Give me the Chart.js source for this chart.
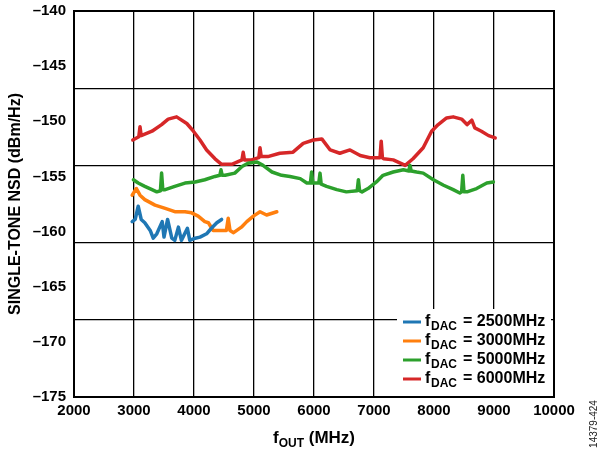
<!DOCTYPE html>
<html>
<head>
<meta charset="utf-8">
<script src="https://cdn.jsdelivr.net/npm/chart.js@4.4.1/dist/chart.umd.min.js"></script>
<style>
  html, body { margin: 0; padding: 0; background: #fff; }
  canvas { display: block; }
</style>
</head>
<body>
<canvas id="nsd" width="602" height="451"></canvas>
<script>
// values (MHz, dBm/Hz)
const xTicks = [2000, 3000, 4000, 5000, 6000, 7000, 8000, 9000, 10000];
const yTicks = [-175, -170, -165, -160, -155, -150, -145, -140];
const seriesNames = ['2500MHz', '3000MHz', '5000MHz', '6000MHz'];

const freq2500 = [2970, 3020, 3070, 3120, 3180, 3270, 3320, 3380, 3470, 3500, 3560, 3630, 3680, 3740, 3790, 3890, 3930, 4020, 4100, 4210, 4290, 4380, 4460];
const nsd2500 = [-159.1, -158.9, -157.7, -158.9, -159.2, -159.9, -160.6, -160.2, -159.1, -160.5, -158.9, -160.6, -160.8, -159.6, -160.8, -159.7, -160.8, -160.6, -160.5, -160.2, -159.7, -159.2, -158.9];

const freq3000 = [2970, 3040, 3100, 3180, 3350, 3520, 3680, 3850, 3960, 4070, 4180, 4240, 4320, 4430, 4540, 4570, 4600, 4660, 4790, 4880, 4990, 5100, 5210, 5380];
const nsd3000 = [-156.7, -156.1, -156.7, -157.1, -157.6, -157.9, -158.2, -158.2, -158.3, -158.6, -159.1, -159.2, -159.9, -159.9, -159.9, -158.8, -159.9, -160.1, -159.6, -159.1, -158.6, -158.2, -158.5, -158.2];

const freq5000 = [2990, 3070, 3180, 3300, 3380, 3440, 3460, 3480, 3520, 3680, 3850, 4020, 4180, 4350, 4430, 4450, 4470, 4520, 4680, 4800, 4900, 5050, 5150, 5300, 5460, 5600, 5770, 5880, 5940, 5960, 5980, 6020, 6080, 6100, 6120, 6210, 6380, 6540, 6720, 6740, 6760, 6800, 6900, 7040, 7150, 7320, 7490, 7580, 7600, 7620, 7710, 7820, 7990, 8160, 8320, 8430, 8460, 8480, 8500, 8550, 8710, 8880, 8990];
const nsd5000 = [-155.3, -155.6, -155.9, -156.2, -156.4, -156.3, -154.7, -156.2, -156.2, -155.9, -155.6, -155.5, -155.3, -155.0, -154.9, -154.4, -154.9, -154.9, -154.7, -154.1, -153.8, -153.7, -154.0, -154.6, -154.9, -155.0, -155.2, -155.6, -155.6, -154.6, -155.6, -155.6, -155.6, -154.7, -155.7, -155.9, -156.2, -156.4, -156.3, -155.3, -156.3, -156.4, -156.1, -155.5, -154.9, -154.6, -154.4, -154.5, -154.0, -154.5, -154.6, -154.7, -155.3, -155.8, -156.2, -156.5, -156.4, -154.9, -156.4, -156.4, -156.1, -155.6, -155.5];

const freq6000 = [2980, 3080, 3100, 3120, 3300, 3460, 3570, 3710, 3880, 3990, 4100, 4210, 4350, 4460, 4630, 4800, 4820, 4840, 4960, 5080, 5100, 5120, 5230, 5430, 5650, 5820, 5990, 6130, 6270, 6430, 6600, 6770, 6930, 7100, 7120, 7140, 7160, 7320, 7520, 7650, 7820, 7960, 8070, 8210, 8320, 8460, 8550, 8630, 8680, 8790, 8910, 9020];
const nsd6000 = [-151.7, -151.4, -150.5, -151.3, -150.9, -150.3, -149.8, -149.6, -150.2, -150.9, -151.7, -152.6, -153.4, -153.9, -153.9, -153.5, -152.8, -153.5, -153.5, -153.3, -152.4, -153.2, -153.2, -152.9, -152.8, -152.0, -151.7, -151.6, -152.6, -152.9, -152.6, -153.1, -153.3, -153.3, -151.8, -153.3, -153.4, -153.5, -154.0, -153.4, -152.4, -150.9, -150.3, -149.7, -149.6, -149.8, -150.3, -149.9, -150.6, -150.9, -151.3, -151.5];

const colors = ['#1f77b4', '#ff7f0e', '#2ca02c', '#d62728'];
const FONT = '"Liberation Sans", Arial, sans-serif';

function pts(xs, ys) {
    return xs.map((x, i) => ({ x: x, y: ys[i] }));
}
const allFreq = [freq2500, freq3000, freq5000, freq6000];
const allNsd = [nsd2500, nsd3000, nsd5000, nsd6000];

// frame, legend with subscripts, x title, figure number
const extras = {
    id: 'extras',
    afterDatasetsDraw(chart) {
        const ctx = chart.ctx;
        const a = chart.chartArea;
        ctx.save();

        // legend box
        const lx = 397, ly = 309;
        ctx.fillStyle = '#fff';
        ctx.fillRect(lx, ly, a.right - 3 - lx, a.bottom - ly);
        seriesNames.forEach((name, i) => {
            const y = 322 + i * 19;
            ctx.strokeStyle = colors[i];
            ctx.lineWidth = 3;
            ctx.beginPath();
            ctx.moveTo(403, y);
            ctx.lineTo(421, y);
            ctx.stroke();
            ctx.fillStyle = '#000';
            ctx.textBaseline = 'middle';
            ctx.textAlign = 'left';
            ctx.font = 'bold 16px ' + FONT;
            ctx.fillText('f', 425, y);
            ctx.font = 'bold 12px ' + FONT;
            ctx.fillText('DAC', 431, y + 5);
            ctx.font = 'bold 16px ' + FONT;
            ctx.fillText('= ' + name, 463, y);
        });

        // plot frame
        ctx.strokeStyle = '#000';
        ctx.lineWidth = 2;
        ctx.strokeRect(a.left, a.top, a.right - a.left, a.bottom - a.top);

        // x axis title with subscript
        ctx.fillStyle = '#000';
        ctx.textBaseline = 'alphabetic';
        ctx.textAlign = 'left';
        const cx = (a.left + a.right) / 2;
        ctx.font = 'bold 17px ' + FONT;
        const wF = ctx.measureText('f').width;
        const wRest = ctx.measureText(' (MHz)').width;
        ctx.font = 'bold 12px ' + FONT;
        const wSub = ctx.measureText('OUT').width;
        let x0 = cx - (wF + wSub + wRest) / 2;
        ctx.font = 'bold 17px ' + FONT;
        ctx.fillText('f', x0, 443);
        ctx.font = 'bold 12px ' + FONT;
        ctx.fillText('OUT', x0 + wF, 447);
        ctx.font = 'bold 17px ' + FONT;
        ctx.fillText(' (MHz)', x0 + wF + wSub, 443);

        // figure number
        ctx.translate(594, 424);
        ctx.rotate(-Math.PI / 2);
        ctx.textAlign = 'center';
        ctx.textBaseline = 'middle';
        ctx.font = '10px ' + FONT;
        ctx.fillStyle = '#222';
        ctx.fillText('14379-424', 0, 0);
        ctx.restore();
    }
};

new Chart(document.getElementById('nsd'), {
    type: 'line',
    data: {
        datasets: seriesNames.map((name, i) => ({
            label: name,
            data: pts(allFreq[i], allNsd[i]),
            borderColor: colors[i],
            backgroundColor: colors[i],
            borderWidth: 3.5,
            borderJoinStyle: 'round',
            borderCapStyle: 'round',
            pointRadius: 0,
            tension: 0,
            fill: false
        }))
    },
    options: {
        responsive: false,
        animation: false,
        layout: { padding: { left: 0, right: 48, top: 11, bottom: 0 } },
        plugins: {
            legend: { display: false },
            tooltip: { enabled: false }
        },
        scales: {
            x: {
                type: 'linear',
                min: 2000,
                max: 10000,
                afterBuildTicks: s => { s.ticks = xTicks.map(v => ({ value: v })); },
                ticks: {
                    color: '#000',
                    font: { family: FONT, size: 15, weight: 'bold' },
                    padding: 5,
                    maxRotation: 0,
                    callback: v => String(v)
                },
                grid: { color: '#000', lineWidth: 1.3, drawTicks: false },
                border: { display: false },
                afterFit: s => { s.height = 54; s.paddingLeft = 0; s.paddingRight = 0; }
            },
            y: {
                min: -175,
                max: -140,
                afterBuildTicks: s => { s.ticks = yTicks.map(v => ({ value: v })); },
                ticks: {
                    color: '#000',
                    font: { family: FONT, size: 15, weight: 'bold' },
                    padding: 8,
                    callback: v => (v < 0 ? '\u2013' + Math.abs(v) : String(v))
                },
                grid: { display: false, drawTicks: false },
                border: { display: false },
                title: {
                    display: true,
                    text: 'SINGLE-TONE NSD (dBm/Hz)',
                    color: '#000',
                    font: { family: FONT, size: 16, weight: 'bold' },
                    padding: { top: 6, bottom: 0 }
                },
                afterFit: s => { s.width = 74; s.paddingTop = 0; s.paddingBottom = 0; }
            },
            yg: {
                position: 'left',
                min: -175,
                max: -140,
                ticks: { display: false, stepSize: 7 },
                grid: { color: '#000', lineWidth: 1.3, drawTicks: false },
                border: { display: false },
                afterFit: s => { s.width = 0; s.paddingTop = 0; s.paddingBottom = 0; }
            }
        }
    },
    plugins: [extras]
});
</script>
</body>
</html>
